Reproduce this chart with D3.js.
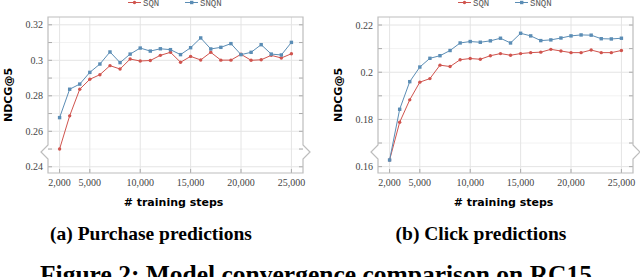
<!DOCTYPE html>
<html>
<head>
<meta charset="utf-8">
<script src="https://cdn.jsdelivr.net/npm/d3@7"></script>
<style>
  body { margin: 0; background: #fff; }
  svg { display: block; }
</style>
</head>
<body>
<svg id="drawing_region" width="640" height="277"></svg>
<script>
// training steps (x)
const steps = [2000, 3000, 4000, 5000, 6000, 7000, 8000, 9000, 10000, 11000, 12000, 13000,
               14000, 15000, 16000, 17000, 18000, 19000, 20000, 21000, 22000, 23000, 24000, 25000];

// (a) purchase predictions
const purchase_sqn  = [0.2500, 0.2687, 0.2837, 0.2893, 0.2919, 0.2970, 0.2951, 0.3007, 0.2996, 0.2999, 0.3028, 0.3045,
                       0.2989, 0.3022, 0.3002, 0.3045, 0.3001, 0.3001, 0.3034, 0.3000, 0.3003, 0.3028, 0.3013, 0.3037];
const purchase_snqn = [0.2677, 0.2837, 0.2866, 0.2932, 0.2979, 0.3047, 0.2987, 0.3035, 0.3069, 0.3052, 0.3065, 0.3060,
                       0.3032, 0.3071, 0.3126, 0.3064, 0.3073, 0.3094, 0.3032, 0.3045, 0.3088, 0.3035, 0.3030, 0.3101];

// (b) click predictions
const click_sqn  = [0.1628, 0.1788, 0.1883, 0.1958, 0.1973, 0.2030, 0.2024, 0.2053, 0.2058, 0.2055, 0.2070, 0.2079,
                    0.2072, 0.2079, 0.2083, 0.2085, 0.2097, 0.2090, 0.2083, 0.2083, 0.2094, 0.2083, 0.2083, 0.2092];
const click_snqn = [0.1628, 0.1843, 0.1960, 0.2022, 0.2059, 0.2070, 0.2092, 0.2124, 0.2130, 0.2127, 0.2133, 0.2144,
                    0.2124, 0.2165, 0.2154, 0.2134, 0.2137, 0.2145, 0.2154, 0.2158, 0.2157, 0.2142, 0.2141, 0.2144];

const series_names = ['SQN', 'SNQN'];
const x_ticks = [2000, 5000, 10000, 15000, 20000, 25000];
const purchase_yticks = [0.24, 0.26, 0.28, 0.30, 0.32];
const purchase_ylabels = ['0.24', '0.26', '0.28', '0.3', '0.32'];
const click_yticks = [0.16, 0.18, 0.20, 0.22];
const click_ylabels = ['0.16', '0.18', '0.2', '0.22'];
const captions = ['(a) Purchase predictions', '(b) Click predictions'];
const figure_caption = 'Figure 2: Model convergence comparison on RC15';

const colors = ['#d0544e', '#5b8db5'];

class ConvergenceChart {

    constructor( config, series ) {
        this.config = config;
        this.series = series;
        this.init();
    }

    init() {
        let self = this;
        const c = self.config;

        self.svg = d3.select( c.parent );
        self.chart = self.svg.append('g')
            .attr('transform', `translate(${c.left}, ${c.top})`);

        self.inner_width = c.width;
        self.inner_height = c.height;

        self.xscale = d3.scaleLinear()
            .domain( c.xdomain )
            .range( [0, self.inner_width] );

        self.yscale = d3.scaleLinear()
            .domain( c.ydomain )
            .range( [self.inner_height, 0] );
    }

    render() {
        let self = this;
        const c = self.config;
        const w = self.inner_width, h = self.inner_height;

        // minor y values halfway between major ticks
        const minor = [];
        for (let i = 0; i < c.yticks.length - 1; i++) minor.push((c.yticks[i] + c.yticks[i+1]) / 2);

        // grid
        self.chart.selectAll('.hminor').data(minor).enter().append('line')
            .attr('x1', 0).attr('x2', w)
            .attr('y1', d => self.yscale(d)).attr('y2', d => self.yscale(d))
            .attr('stroke', '#f2f2f2');
        self.chart.selectAll('.hgrid').data(c.yticks).enter().append('line')
            .attr('x1', 0).attr('x2', w)
            .attr('y1', d => self.yscale(d)).attr('y2', d => self.yscale(d))
            .attr('stroke', '#e4e4e4');
        self.chart.selectAll('.vgrid').data(x_ticks).enter().append('line')
            .attr('y1', 0).attr('y2', h)
            .attr('x1', d => self.xscale(d)).attr('x2', d => self.xscale(d))
            .attr('stroke', '#e4e4e4');

        // inward ticks on left and right
        const allticks = c.yticks.concat(minor);
        [0, w].forEach( (xx, k) => {
            self.chart.append('g').selectAll('line').data(allticks).enter().append('line')
                .attr('x1', xx).attr('x2', k == 0 ? xx + 4 : xx - 4)
                .attr('y1', d => self.yscale(d)).attr('y2', d => self.yscale(d))
                .attr('stroke', '#aaa');
        });
        self.chart.append('g').selectAll('line').data(x_ticks).enter().append('line')
            .attr('x1', d => self.xscale(d)).attr('x2', d => self.xscale(d))
            .attr('y1', h).attr('y2', h - 4)
            .attr('stroke', '#aaa');

        // frame with axis break near the bottom
        const yb = h - 21;
        self.chart.append('path')
            .attr('d', `M0,0 H${w} V${yb-7} L${w+7},${yb} L${w},${yb+7} V${h} H0 V${yb+7} L-7,${yb} L0,${yb-7} Z`)
            .attr('fill', 'none')
            .attr('stroke', '#bdbdbd')
            .attr('stroke-width', 1.2);

        // tick labels
        self.chart.selectAll('.ylab').data(c.yticks).enter().append('text')
            .attr('x', -5)
            .attr('y', d => self.yscale(d))
            .attr('dy', '0.35em')
            .attr('text-anchor', 'end')
            .attr('font-family', 'Liberation Serif, serif')
            .attr('font-size', 10)
            .attr('fill', '#444')
            .text( (d, i) => c.ylabels[i] );

        self.chart.selectAll('.xlab').data(x_ticks).enter().append('text')
            .attr('x', d => self.xscale(d))
            .attr('y', h + 13)
            .attr('text-anchor', 'middle')
            .attr('font-family', 'Liberation Serif, serif')
            .attr('font-size', 10)
            .attr('fill', '#444')
            .text( d3.format(',') );

        // axis titles
        self.chart.append('text')
            .attr('x', w / 2 - 2)
            .attr('y', h + 33)
            .attr('text-anchor', 'middle')
            .attr('font-family', 'DejaVu Sans, sans-serif')
            .attr('font-weight', 'bold')
            .attr('font-size', 11)
            .text('# training steps');

        self.chart.append('text')
            .attr('transform', `translate(-36, ${h/2}) rotate(-90)`)
            .attr('text-anchor', 'middle')
            .attr('font-family', 'DejaVu Sans, sans-serif')
            .attr('font-weight', 'bold')
            .attr('font-size', 11)
            .text('NDCG@5');

        // lines
        const line = d3.line()
            .x( (d, i) => self.xscale(steps[i]) )
            .y( d => self.yscale(d) );

        self.series.forEach( (vals, k) => {
            self.chart.append('path')
                .attr('d', line(vals))
                .attr('fill', 'none')
                .attr('stroke', colors[k])
                .attr('stroke-width', 1);

            const g = self.chart.append('g');
            if (k == 0) {
                g.selectAll('circle').data(vals).enter().append('circle')
                    .attr('cx', (d, i) => self.xscale(steps[i]))
                    .attr('cy', d => self.yscale(d))
                    .attr('r', 1.7)
                    .attr('fill', colors[k]);
            } else {
                g.selectAll('rect').data(vals).enter().append('rect')
                    .attr('x', (d, i) => self.xscale(steps[i]) - 1.7)
                    .attr('y', d => self.yscale(d) - 1.7)
                    .attr('width', 3.4).attr('height', 3.4)
                    .attr('fill', colors[k]);
            }
        });

        // legend (partly cut at the top of the figure)
        const lx = [80, 137];
        series_names.forEach( (name, k) => {
            const x0 = lx[k], y0 = -c.top + 2.5;
            self.chart.append('line')
                .attr('x1', x0).attr('x2', x0 + 13)
                .attr('y1', y0).attr('y2', y0)
                .attr('stroke', colors[k]);
            if (k == 0) {
                self.chart.append('circle').attr('cx', x0 + 6.5).attr('cy', y0).attr('r', 1.7).attr('fill', colors[k]);
            } else {
                self.chart.append('rect').attr('x', x0 + 5).attr('y', y0 - 1.7)
                    .attr('width', 3.4).attr('height', 3.4).attr('fill', colors[k]);
            }
            self.chart.append('text')
                .attr('x', x0 + 15)
                .attr('y', y0 + 3)
                .attr('font-family', 'Liberation Mono, monospace')
                .attr('font-size', 9)
                .attr('fill', '#555')
                .text(name);
        });

        // sub caption
        self.svg.append('text')
            .attr('x', c.left + c.caption_dx)
            .attr('y', 240)
            .attr('text-anchor', 'middle')
            .attr('font-family', 'Liberation Serif, serif')
            .attr('font-weight', 'bold')
            .attr('font-size', 19.5)
            .text(c.caption);
    }
}

const purchase_chart = new ConvergenceChart({
    parent: '#drawing_region',
    left: 48, top: 17, width: 255, height: 156,
    xdomain: [850, 26150],
    ydomain: [0.2365, 0.3244],
    yticks: purchase_yticks, ylabels: purchase_ylabels,
    caption: captions[0], caption_dx: 103
}, [purchase_sqn, purchase_snqn]);
purchase_chart.render();

const click_chart = new ConvergenceChart({
    parent: '#drawing_region',
    left: 378, top: 17, width: 255, height: 156,
    xdomain: [850, 26150],
    ydomain: [0.1573, 0.2234],
    yticks: click_yticks, ylabels: click_ylabels,
    caption: captions[1], caption_dx: 103
}, [click_sqn, click_snqn]);
click_chart.render();

// main caption, cut by the lower edge as in the source figure
d3.select('#drawing_region').append('text')
    .attr('x', 316)
    .attr('y', 283)
    .attr('text-anchor', 'middle')
    .attr('font-family', 'Liberation Serif, serif')
    .attr('font-weight', 'bold')
    .attr('font-size', 25.5)
    .text(figure_caption);
</script>
</body>
</html>
